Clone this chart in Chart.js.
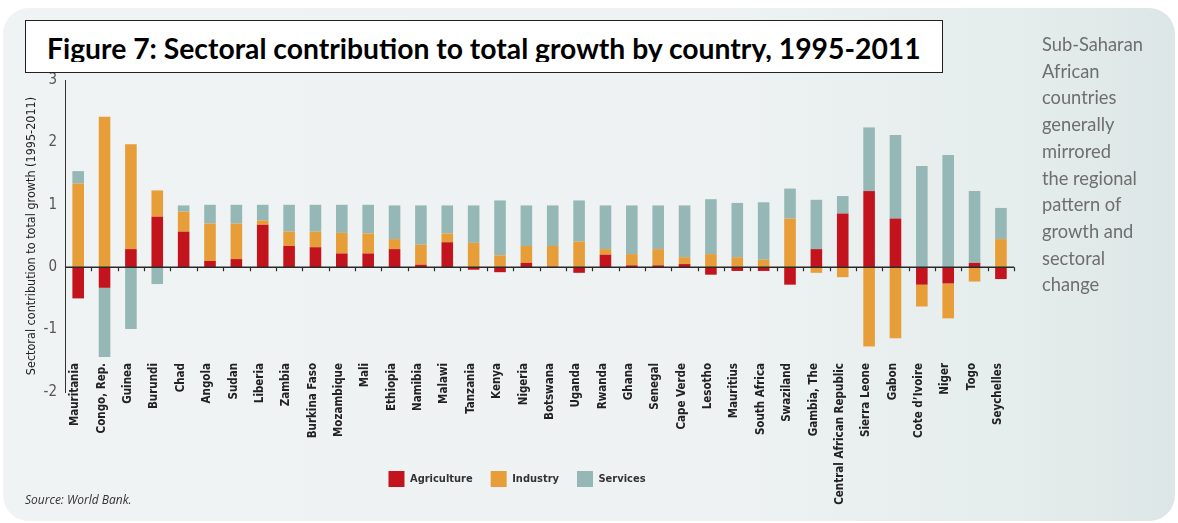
<!DOCTYPE html>
<html>
<head>
<meta charset="utf-8">
<script src="https://cdn.jsdelivr.net/npm/chart.js@4.4.1/dist/chart.umd.min.js"></script>
<style>
  html, body { margin: 0; padding: 0; background: #fff; }
  body { width: 1178px; height: 523px; position: relative; overflow: hidden; }
  #panel {
    position: absolute; left: 3px; top: 8px; width: 1172px; height: 513px;
    border-radius: 26px;
    background: linear-gradient(90deg, #eff3f3 0%, #eef2f2 60%, #e6eded 85%, #dde6e6 100%);
  }
  #wrap { position: absolute; left: 0; top: 0; width: 1044px; height: 523px; }
  #titleBox {
    position: absolute; left: 25px; top: 20px; width: 916px; height: 51px;
    background: #fff; border: 1.5px solid #222; z-index: 5;
  }
  #titleClip { position: absolute; left: 0; top: 0; width: 100%; height: 41px; overflow: hidden; }
  #titleText {
    position: absolute; left: 21px; top: 10px; white-space: nowrap;
    font-family: Lato, "Open Sans", sans-serif; font-weight: bold; font-size: 28.3px; color: #000;
  }
  #note {
    position: absolute; left: 1042px; top: 31px; width: 134px;
    font-family: Lato, "Open Sans", sans-serif; font-size: 18.3px; line-height: 26.7px; color: #6e6e6e;
  }
  #source {
    position: absolute; left: 25px; top: 491px;
    font-family: "Open Sans", sans-serif; font-style: italic; font-size: 12px; color: #333;
  }
</style>
</head>
<body>
<div id="panel"></div>
<div id="wrap"><canvas id="chart"></canvas></div>
<div id="titleBox"><div id="titleClip"><div id="titleText">Figure 7: Sectoral contribution to total growth by country, 1995-2011</div></div></div>
<div id="note">Sub-Saharan<br>African<br>countries<br>generally<br>mirrored<br>the regional<br>pattern of<br>growth and<br>sectoral<br>change</div>
<div id="source">Source: World Bank.</div>
<script>
const countries = ["Mauritania", "Congo, Rep.", "Guinea", "Burundi", "Chad", "Angola", "Sudan", "Liberia",
  "Zambia", "Burkina Faso", "Mozambique", "Mali", "Ethiopia", "Namibia", "Malawi", "Tanzania", "Kenya",
  "Nigeria", "Botswana", "Uganda", "Rwanda", "Ghana", "Senegal", "Cape Verde", "Lesotho", "Mauritius",
  "South Africa", "Swaziland", "Gambia, The", "Central African Republic", "Sierra Leone", "Gabon",
  "Cote d\u2019Ivoire", "Niger", "Togo", "Seychelles"];

const agriculture = [-0.50, -0.33, 0.29, 0.81, 0.57, 0.10, 0.13, 0.68, 0.34, 0.32, 0.22, 0.22, 0.29, 0.04,
  0.40, -0.04, -0.08, 0.07, 0.01, -0.09, 0.20, 0.03, 0.03, 0.05, -0.12, -0.06, -0.06, -0.28, 0.29, 0.86,
  1.22, 0.78, -0.28, -0.26, 0.07, -0.19];
const industry = [1.34, 2.41, 1.68, 0.42, 0.32, 0.60, 0.57, 0.07, 0.23, 0.25, 0.33, 0.32, 0.16, 0.32,
  0.14, 0.39, 0.19, 0.27, 0.33, 0.41, 0.09, 0.18, 0.26, 0.11, 0.21, 0.16, 0.12, 0.78, -0.09, -0.16,
  -1.27, -1.14, -0.35, -0.56, -0.23, 0.45];
const services = [0.20, -1.11, -0.99, -0.27, 0.10, 0.30, 0.30, 0.25, 0.43, 0.43, 0.45, 0.46, 0.54, 0.63,
  0.45, 0.60, 0.88, 0.65, 0.65, 0.66, 0.70, 0.78, 0.70, 0.83, 0.88, 0.87, 0.92, 0.48, 0.79, 0.28,
  1.02, 1.34, 1.62, 1.80, 1.15, 0.50];
const yTicks = [-2, -1, 0, 1, 2, 3];

const narrow = "'Liberation Sans Narrow', 'DejaVu Sans Condensed', sans-serif";

// zero line with little ticks between the countries, drawn over the bars
const zeroLine = {
  id: "zeroLine",
  afterDatasetsDraw(chart) {
    const {ctx, scales: {x, y}} = chart;
    const y0 = y.getPixelForValue(0);
    const step = x.width / countries.length;
    ctx.save();
    ctx.strokeStyle = "#2a2a2a";
    ctx.lineWidth = 1.5;
    ctx.beginPath();
    ctx.moveTo(x.left, y0);
    ctx.lineTo(x.right, y0);
    ctx.stroke();
    ctx.lineWidth = 1.2;
    ctx.beginPath();
    for (let i = 1; i <= countries.length; i++) {
      const bx = Math.round(x.left + step * i) + 0.5;
      ctx.moveTo(bx, y0);
      ctx.lineTo(bx, y0 + 4);
    }
    ctx.stroke();
    ctx.restore();
  }
};

new Chart(document.getElementById("chart"), {
  type: "bar",
  data: {
    labels: countries,
    datasets: [
      {label: "Agriculture", data: agriculture, backgroundColor: "#c3141d"},
      {label: "Industry", data: industry, backgroundColor: "#e79d38"},
      {label: "Services", data: services, backgroundColor: "#95b8b6"},
    ],
  },
  options: {
    responsive: true,
    maintainAspectRatio: false,
    animation: false,
    categoryPercentage: 1,
    barPercentage: 0.44,
    layout: {padding: {top: 80, left: 10, right: 20, bottom: 26}},
    scales: {
      x: {
        stacked: true,
        clip: false,
        grid: {display: false, drawTicks: false},
        border: {display: false},
        ticks: {
          // mirror lets the names start above the bottom of the plot, like the original
          autoSkip: false, minRotation: 90, maxRotation: 90, mirror: true, padding: 29, labelOffset: 11,
          color: "#222", font: {family: narrow, size: 11.5, weight: "bold"},
        },
        afterFit: (scale) => { scale.height = 61; },
      },
      y: {
        stacked: true,
        min: -2, max: 3,
        afterBuildTicks: (scale) => { scale.ticks = yTicks.map(v => ({value: v})); },
        grid: {display: false, drawTicks: false},
        border: {display: true, color: "#333", width: 1},
        ticks: {padding: 8, color: "#555", font: {family: narrow, size: 15}},
        title: {
          display: true, text: "Sectoral contribution to total growth (1995-2011)",
          color: "#222", font: {family: narrow, size: 12.5}, padding: {top: 14, bottom: 0},
        },
        afterFit: (scale) => { scale.width = 55; },
      },
    },
    plugins: {
      legend: {
        position: "bottom",
        labels: {
          boxWidth: 16, boxHeight: 16, padding: 18, color: "#333",
          font: {family: narrow, size: 11, weight: "bold"},
        },
      },
      tooltip: {enabled: false},
    },
  },
  plugins: [zeroLine],
});
</script>
</body>
</html>
